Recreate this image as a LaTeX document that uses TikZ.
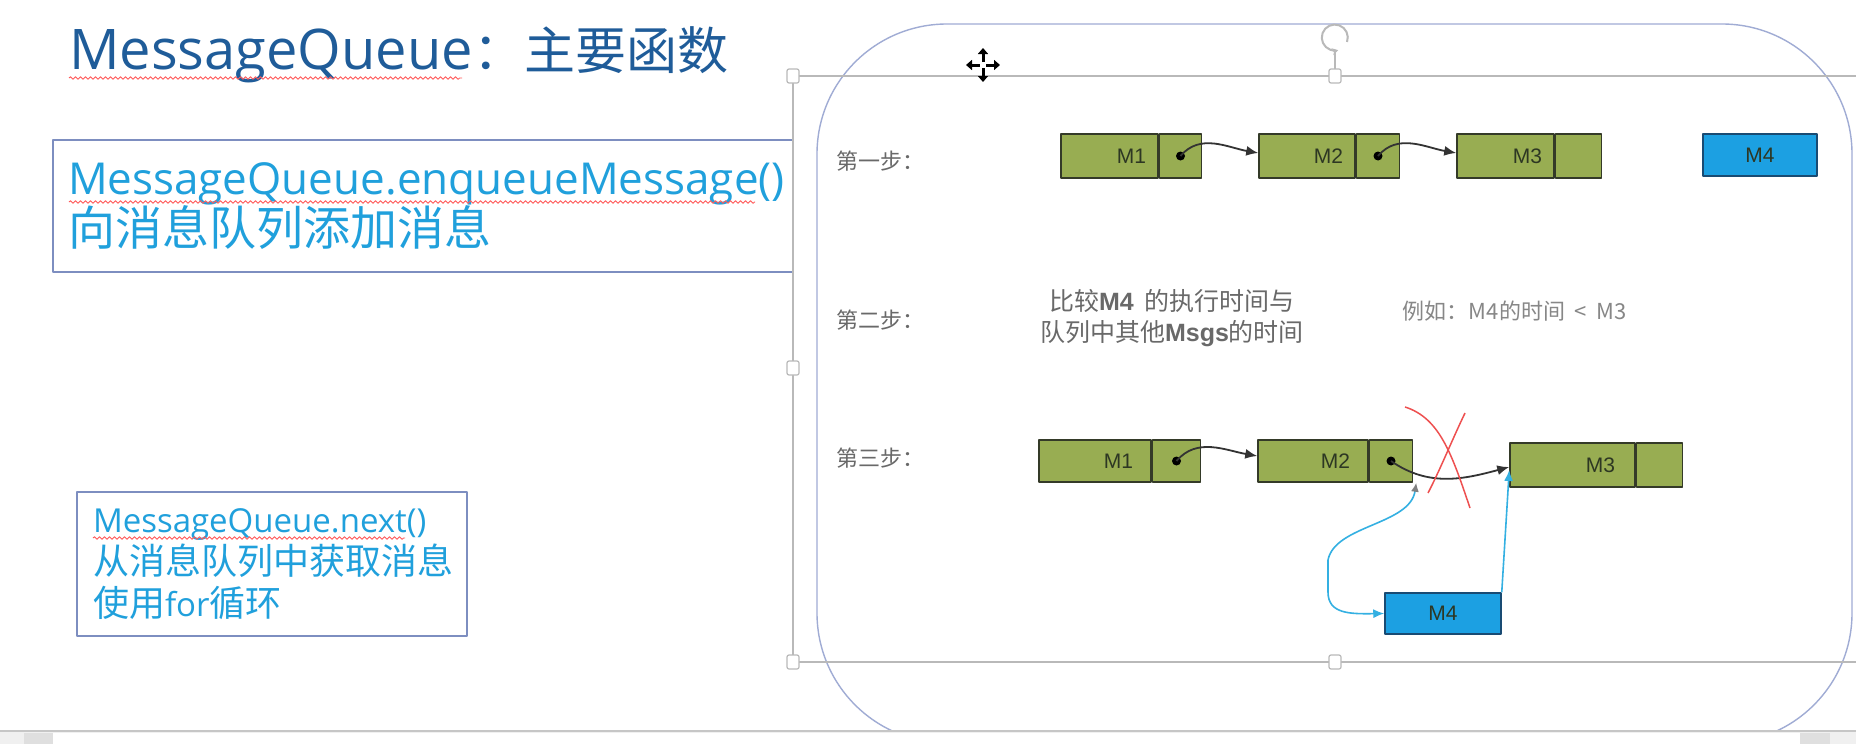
\documentclass[tikz,border=0pt]{standalone}
\usepackage{fontspec}
\setmainfont{Open Sans}
\newfontfamily\cjk{Noto Sans CJK SC}
\newfontfamily\lsans{Liberation Sans}
\usetikzlibrary{arrows.meta,decorations.pathmorphing}

\definecolor{titleblue}{RGB}{31,92,153}
\definecolor{textblue}{RGB}{32,160,220}
\definecolor{boxedge}{RGB}{125,142,192}
\definecolor{frameblue}{RGB}{160,172,212}
\definecolor{selgray}{RGB}{185,185,185}
\definecolor{msggreen}{RGB}{152,173,82}
\definecolor{msgedge}{RGB}{52,58,40}
\definecolor{msgtext}{RGB}{45,55,35}
\definecolor{msgblue}{RGB}{28,160,226}
\definecolor{newedge}{RGB}{25,75,115}
\definecolor{linkblue}{RGB}{52,176,226}
\definecolor{stepgray}{RGB}{105,105,105}
\definecolor{crossred}{RGB}{238,80,80}

\tikzset{
  msgbody/.style={draw=msgedge, fill=msggreen, line width=1.5pt, minimum height=44pt,
    text width=#1, align=right, inner xsep=12pt, inner ysep=0pt,
    font=\lsans\fontsize{21}{21}\selectfont, text=msgtext},
  ptrcell/.style={draw=msgedge, fill=msggreen, line width=1.5pt, minimum width=#1,
    minimum height=44pt, inner sep=0pt, anchor=west},
  newmsg/.style={draw=newedge, fill=msgblue, line width=1.5pt, minimum height=42pt,
    minimum width=#1, inner sep=0pt, font=\lsans\fontsize{21}{21}\selectfont, text=msgtext},
  dot/.style={circle, fill=black, inner sep=0pt, minimum size=9pt},
  link/.style={draw=black!80, line width=1.8pt, ->},
  bluelink/.style={draw=linkblue, line width=1.6pt},
  steplabel/.style={text=stepgray, font=\cjk\fontsize{22}{22}\selectfont, inner sep=0pt},
  infobox/.style={draw=boxedge, line width=1.5pt, align=left, text=textblue, inner xsep=15pt, inner ysep=0pt},
  squiggle/.style={draw=red!65, line width=0.9pt, decorate,
    decoration={snake, amplitude=1.3pt, segment length=5pt}},
  handle/.style={draw=selgray, fill=white, line width=1.2pt, minimum width=12pt,
    minimum height=14pt, inner sep=0pt, rounded corners=2pt},
  cross/.style={draw=crossred, line width=1.5pt},
}

\begin{document}
\begin{tikzpicture}[x=1pt,y=1pt,>={Latex[length=12pt,width=10pt]},line join=bevel]
\useasboundingbox (0,0) rectangle (1856,-744);
\fill[white] (0,0) rectangle (1856,-744);
%%
  \node (title) at (69,-69) [anchor=base west,inner sep=0pt,text=titleblue,font=\fontsize{56}{60}\selectfont] {MessageQueue{\cjk\fontsize{51}{60}\selectfont ：主要函数}};
  \draw [squiggle] (69,-78) -- (462,-78);

  \node (enq) at (423,-206) [infobox,text width=710pt,minimum height=132pt,font=\fontsize{44}{51}\selectfont] {MessageQueue.enqueueMessage()\\{\cjk\fontsize{47}{51}\selectfont 向消息队列添加消息}};
  \draw [squiggle] (69,-202) -- (755,-202);

  \node (nxt) at (272,-564) [infobox,text width=358pt,inner xsep=16pt,minimum height=144pt,font=\fontsize{33}{42}\selectfont] {MessageQueue.next()\\{\cjk\fontsize{36}{42}\selectfont 从消息队列中获取消息}\\{\cjk\fontsize{36}{42}\selectfont 使用}for{\cjk\fontsize{36}{42}\selectfont 循环}};
  \draw [squiggle] (93,-538) -- (405,-538);

%% frame
  \draw [frameblue,line width=1.4pt,rounded corners=130pt] (817,-24) rectangle (1852,-743);
  \draw [selgray,line width=1.5pt] (1860,-76) -- (793,-76) -- (793,-662) -- (1860,-662);
  \draw [selgray,line width=1.5pt] (1335,-76) -- (1335,-52);
  \draw [selgray,line width=2pt,-{Stealth[length=6pt,width=7pt]}] (1347,-42) arc[start angle=-20,end angle=285,radius=13pt];
  \foreach \p [count=\i] in {(793,-76),(1335,-76),(793,-368),(793,-662),(1335,-662)}
    \node (h\i) at \p [handle] {};
  \foreach \a in {0,90,180,270}
    \draw [line width=3pt,-{Triangle[length=6pt,width=10pt]}] (983,-65) ++(\a:3pt) -- ++(\a:14pt);

%% steps
  \node (step1) at (880,-161) [steplabel] {第一步：};
  \node (step2) at (880,-320) [steplabel] {第二步：};
  \node (step3) at (880,-458) [steplabel] {第三步：};

  \node (cmp) at (1172,-318) [align=center,text=stepgray,font=\cjk\fontsize{25}{31}\selectfont] {比较{\lsans\bfseries M4} \ 的执行时间与\\队列中其他{\lsans\bfseries Msgs}的时间};
  \node (eg) at (1515,-311) [text=stepgray!80,font=\cjk\fontsize{22}{22}\selectfont] {例如：M4的时间 \ < \ M3};

%% row 1
  \node (r1_m1) at (1109.5,-156) [msgbody=73pt] {M1};
  \node (r1_p1) at (r1_m1.east) [ptrcell=42pt] {};
  \node (r1_m2) at (1307,-156) [msgbody=72pt] {M2};
  \node (r1_p2) at (r1_m2.east) [ptrcell=43pt] {};
  \node (r1_m3) at (1505.5,-156) [msgbody=73pt] {M3};
  \node (r1_p3) at (r1_m3.east) [ptrcell=46pt] {};
  \node (r1_m4) at (1760,-155) [newmsg=114pt] {M4};
  \node (r1_d1) at (r1_p1.center) [dot] {};
  \node (r1_d2) at (r1_p2.center) [dot] {};

  \draw [link] (r1_d1.center) to[out=50,in=170] ([yshift=3pt]r1_m2.west);
  \draw [link] (r1_d2.center) to[out=50,in=170] ([yshift=3pt]r1_m3.west);

%% row 3
  \node (r3_m1) at (1095,-461) [msgbody=76pt,inner xsep=18pt,minimum height=42pt] {M1};
  \node (r3_p1) at (r3_m1.east) [ptrcell=48pt,minimum height=42pt] {};
  \node (r3_m2) at (1313,-461) [msgbody=74pt,inner xsep=18pt,minimum height=42pt] {M2};
  \node (r3_p2) at (r3_m2.east) [ptrcell=43pt,minimum height=42pt] {};
  \node (r3_m3) at (1572.5,-465) [msgbody=85pt,inner xsep=20pt] {M3};
  \node (r3_p3) at (r3_m3.east) [ptrcell=46pt] {};
  \node (r3_m4) at (1443,-613.5) [newmsg=116pt,minimum height=41pt] {M4};
  \node (r3_d1) at (r3_p1.center) [dot] {};
  \node (r3_d2) at (r3_p2.center) [dot] {};

  \draw [link] (r3_d1.center) to[out=50,in=170] ([yshift=5pt]r3_m2.west);
  \draw [link] (r3_d2.center) to[out=-35,in=195] ([yshift=-2pt]r3_m3.west);

  \draw [bluelink,{Latex[length=9pt,width=8pt,color=gray]}-{Latex[length=11pt,width=9pt]}] ([xshift=3pt]r3_p2.south east) .. controls (1410,-525) and (1335,-525) .. (1328,-560) -- (1328,-592) .. controls (1328,-614) and (1350,-614) .. (r3_m4.west);
  \draw [bluelink,-{Latex[length=11pt,width=9pt]}] (r3_m4.north east) -- ([yshift=-5pt]r3_m3.west);

  \draw [cross] (1405,-407) .. controls (1440,-418) and (1452,-455) .. (1470,-508);
  \draw [cross] (1465,-413) .. controls (1452,-440) and (1440,-470) .. (1428,-493);

%% scroll bar
  \fill [gray!12] (0,-731) rectangle (1856,-744);
  \draw [gray!45,line width=1.5pt] (0,-731) -- (1856,-731);
  \fill [white] (53,-733) rectangle (1800,-744);
  \fill [gray!25] (24,-733) rectangle (53,-744);
  \fill [gray!25] (1800,-733) rectangle (1830,-744);

\end{tikzpicture}
\end{document}
